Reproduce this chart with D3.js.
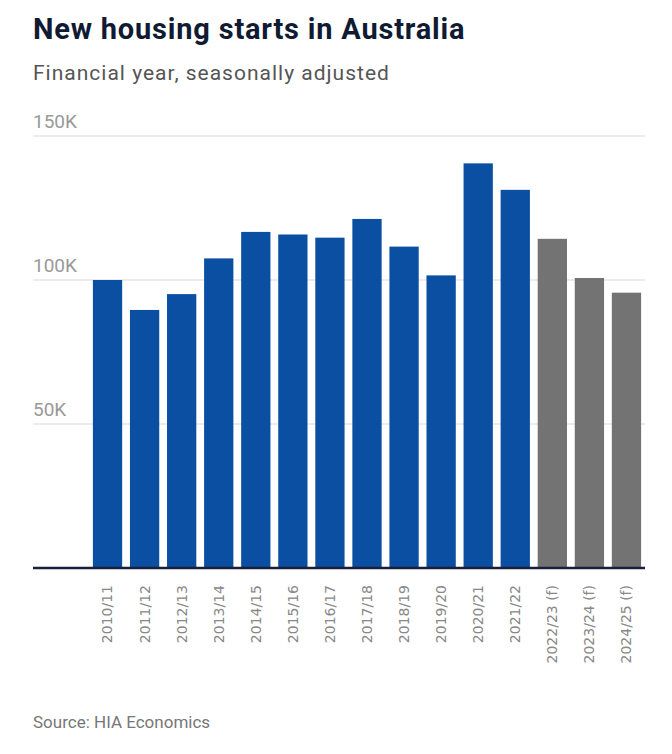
<!DOCTYPE html>
<html>
<head>
<meta charset="utf-8">
<script src="https://cdn.jsdelivr.net/npm/d3@7"></script>
<style>
  body { margin: 0; background: #fff; }
  svg { display: block; }
</style>
</head>
<body>
<svg id="chart"></svg>
<script>
// data (thousands of starts)
const years = ["2010/11", "2011/12", "2012/13", "2013/14", "2014/15", "2015/16", "2016/17",
  "2017/18", "2018/19", "2019/20", "2020/21", "2021/22", "2022/23 (f)", "2023/24 (f)", "2024/25 (f)"];
const starts = [100, 89.6, 95.1, 107.5, 116.7, 115.8, 114.7, 121.2, 111.6, 101.6, 140.5, 131.3, 114.3, 100.7, 95.6];
const forecast = [false, false, false, false, false, false, false, false, false, false, false, false, true, true, true];
const yTicks = [50, 100, 150];

// chart specifications
const W = 672, H = 754;
const plotLeft = 33, plotRight = 645;
const blue = "#0b4fa3", grey = "#737373";

const data = years.map((y, i) => ({ year: y, value: starts[i], f: forecast[i] }));

const svg = d3.select("#chart").attr("width", W).attr("height", H);

// title block
svg.append("text")
  .attr("x", plotLeft).attr("y", 39)
  .attr("font-family", "Roboto").attr("font-weight", 700)
  .attr("font-size", 29).attr("letter-spacing", 0.8)
  .attr("fill", "#111a33")
  .text("New housing starts in Australia");

svg.append("text")
  .attr("x", plotLeft).attr("y", 80)
  .attr("font-family", "Roboto").attr("font-size", 21)
  .attr("letter-spacing", 1)
  .attr("fill", "#555").text("Financial year, seasonally adjusted");

// scales
const x = d3.scaleBand()
  .domain(years)
  .range([89, 645])
  .paddingInner(0.21)
  .paddingOuter(0.105);

const y = d3.scaleLinear().domain([0, 150]).range([568, 136]);

// grid + y labels
const grid = svg.append("g");
grid.selectAll("line")
  .data(yTicks)
  .join("line")
  .attr("x1", plotLeft).attr("x2", plotRight)
  .attr("y1", d => y(d)).attr("y2", d => y(d))
  .attr("stroke", "#e6e6e6").attr("stroke-width", 1.5);

grid.selectAll("text")
  .data(yTicks)
  .join("text")
  .attr("x", plotLeft).attr("y", d => y(d) - 8)
  .attr("font-family", "Roboto").attr("font-size", 19)
  .attr("fill", "#999")
  .text(d => d + "K");

// bars
svg.append("g")
  .selectAll("rect")
  .data(data)
  .join("rect")
  .attr("x", d => x(d.year))
  .attr("width", x.bandwidth())
  .attr("y", d => y(d.value))
  .attr("height", d => y(0) - y(d.value))
  .attr("fill", d => d.f ? grey : blue);

// baseline
svg.append("line")
  .attr("x1", plotLeft).attr("x2", plotRight)
  .attr("y1", y(0)).attr("y2", y(0))
  .attr("stroke", "#1a1f3a").attr("stroke-width", 2.5);

// x axis labels, rotated
const xAxis = (g) =>
  g.attr("transform", `translate(0,${y(0) + 17})`)
    .call(d3.axisBottom(x).tickSize(0).tickPadding(0))
    .call((g) => g.select(".domain").remove())
    .call((g) => g.selectAll("text")
      .attr("transform", "rotate(-90)")
      .attr("text-anchor", "end")
      .attr("dy", "0.35em")
      .attr("x", 0).attr("y", 0)
      .attr("font-family", "DejaVu Sans")
      .attr("font-size", 14)
      .attr("fill", "#888"));
svg.append("g").call(xAxis);

// source
svg.append("text")
  .attr("x", plotLeft).attr("y", 728)
  .attr("font-family", "Roboto").attr("font-size", 17)
  .attr("fill", "#777").text("Source: HIA Economics");
</script>
</body>
</html>
